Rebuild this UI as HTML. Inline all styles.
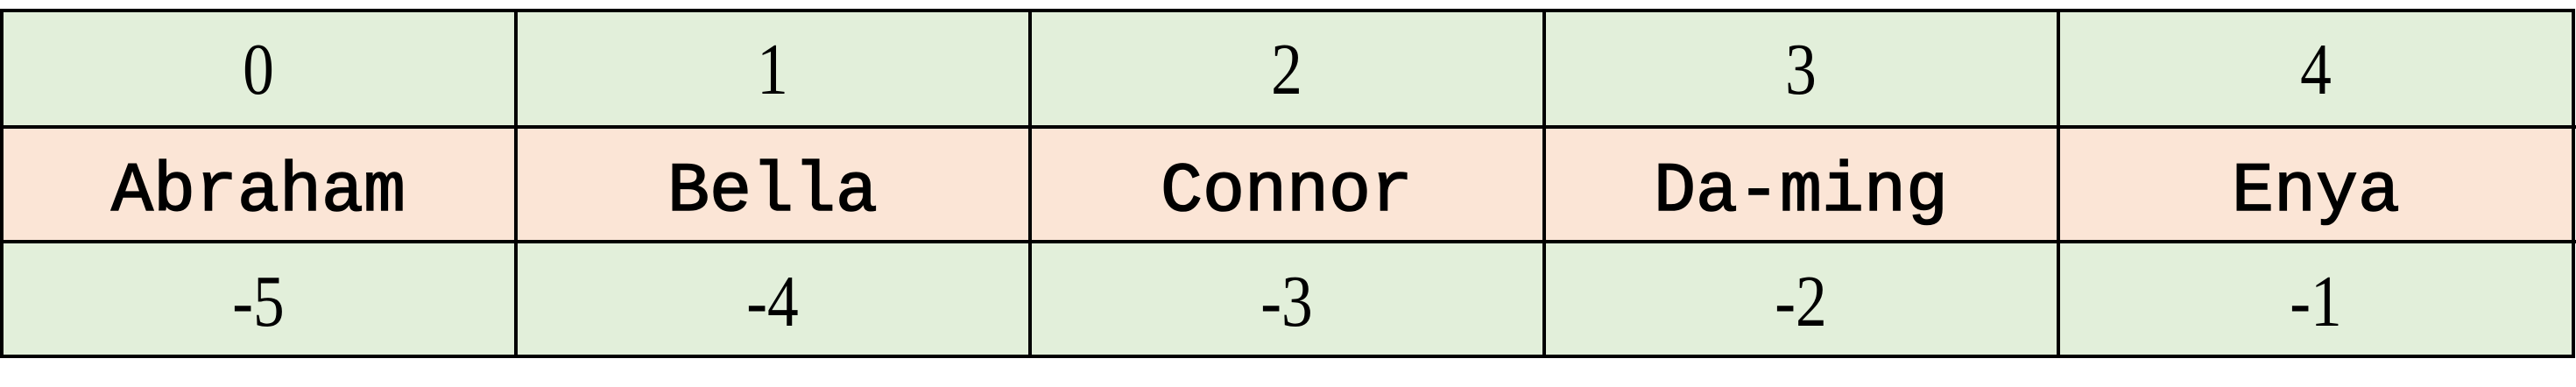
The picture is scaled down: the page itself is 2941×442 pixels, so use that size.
<!DOCTYPE html>
<html><head><meta charset="utf-8"><style>
html,body{margin:0;padding:0;background:#fff;}
svg{display:block;}
.n{font-family:"Liberation Serif",serif;font-size:84px;fill:#000;}
.m{font-family:"Liberation Mono",monospace;font-size:80px;fill:#000;stroke:#000;stroke-width:1.6;}
</style></head><body>
<svg width="2941" height="442" viewBox="0 0 2941 442" xmlns="http://www.w3.org/2000/svg">
<rect x="0" y="12" width="2939" height="133" fill="#e2efda"/>
<rect x="0" y="145" width="2939" height="131" fill="#fbe5d6"/>
<rect x="0" y="276" width="2939" height="131" fill="#e2efda"/>
<g stroke="#000" stroke-width="4" fill="none">
<rect x="2" y="12" width="2936" height="395"/>
<line x1="0" y1="145" x2="2941" y2="145"/>
<line x1="0" y1="276" x2="2941" y2="276"/>
<line x1="589" y1="12" x2="589" y2="407"/>
<line x1="1176" y1="12" x2="1176" y2="407"/>
<line x1="1763" y1="12" x2="1763" y2="407"/>
<line x1="2350" y1="12" x2="2350" y2="407"/>
</g>
<g text-anchor="middle">
<g transform="translate(295,0) scale(0.85,1)"><text class="n" x="0" y="107">0</text><text class="n" x="0" y="372">-5</text></g>
<g transform="translate(882,0) scale(0.85,1)"><text class="n" x="0" y="107">1</text><text class="n" x="0" y="372">-4</text></g>
<g transform="translate(1469,0) scale(0.85,1)"><text class="n" x="0" y="107">2</text><text class="n" x="0" y="372">-3</text></g>
<g transform="translate(2056,0) scale(0.85,1)"><text class="n" x="0" y="107">3</text><text class="n" x="0" y="372">-2</text></g>
<g transform="translate(2644,0) scale(0.85,1)"><text class="n" x="0" y="107">4</text><text class="n" x="0" y="372">-1</text></g>
<text class="m" x="295" y="240">Abraham</text>
<text class="m" x="882" y="240">Bella</text>
<text class="m" x="1469" y="240">Connor</text>
<text class="m" x="2056" y="240">Da-ming</text>
<text class="m" x="2644" y="240">Enya</text>
</g>
</svg>
</body></html>
